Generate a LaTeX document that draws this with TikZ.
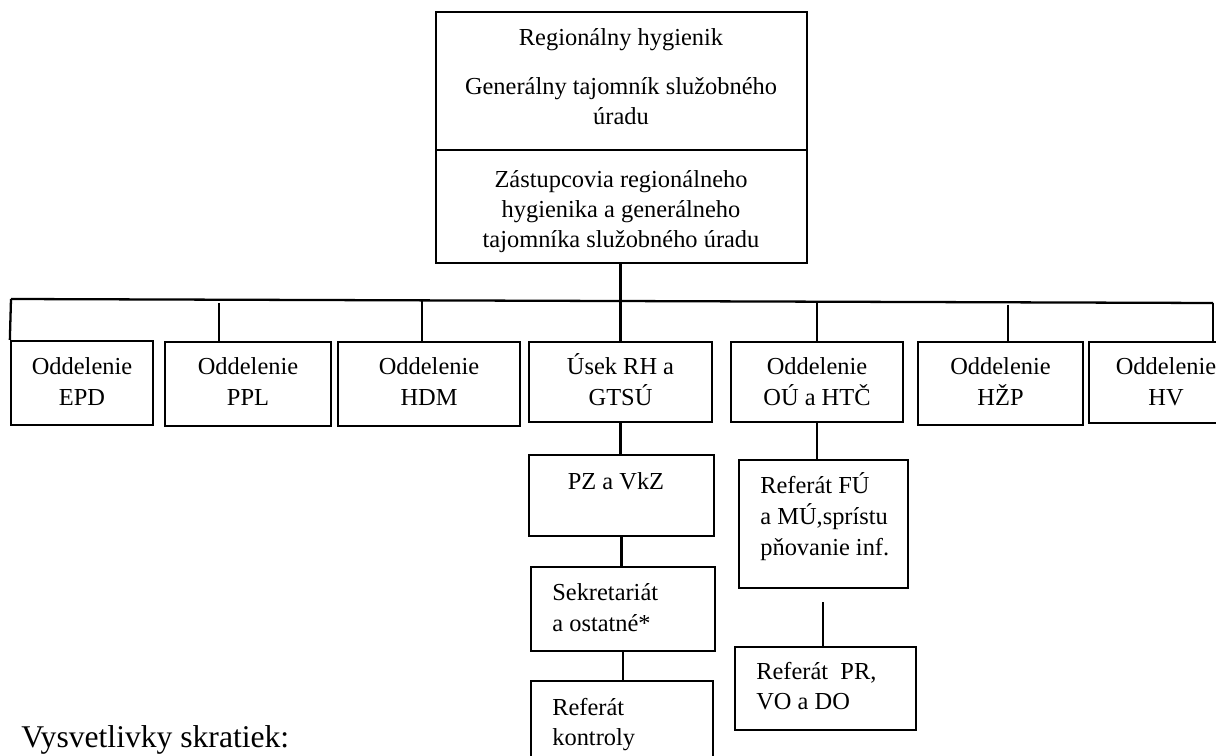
\documentclass[tikz,border=0pt]{standalone}
\usepackage{fontspec}
\setmainfont{Liberation Serif}
\usetikzlibrary{fit}
\begin{document}
\begin{tikzpicture}[x=0.02cm,y=-0.02cm,
  box/.style={draw, line width=1.3pt, inner sep=0pt, rectangle},
  conn/.style={line width=1.3pt},
  tc/.style={inner sep=0pt, anchor=base, font=\fontsize{13.9}{16}\selectfont},
  tl/.style={inner sep=0pt, anchor=base west, font=\fontsize{13.9}{16}\selectfont}]
\useasboundingbox (0,0) rectangle (1216,756);
\clip (0,0) rectangle (1216,756);

% boxes
\node[box, fit={(436,12)(807,150)}] (rh) {};
\node[box, fit={(436,150)(807,263)}] (zast) {};
\node[box, fit={(11,341)(153,425)}] (epd) {};
\node[box, fit={(165,342)(331,426)}] (ppl) {};
\node[box, fit={(338,342)(520,426)}] (hdm) {};
\node[box, fit={(529,342)(712,422)}] (usek) {};
\node[box, fit={(731,342)(903,422)}] (ou) {};
\node[box, fit={(918,342)(1083,425)}] (hzp) {};
\node[box, fit={(1089,342)(1243,423)}] (hv) {};
\node[box, fit={(529,455)(714,536)}] (pz) {};
\node[box, fit={(531,567)(715,651)}] (sek) {};
\node[box, fit={(531,681)(713,790)}] (rk) {};
\node[box, fit={(739,460)(908,588)}] (fu) {};
\node[box, fit={(735,647)(916,730)}] (pr) {};

% connectors
\coordinate (busL) at (11,299);
\coordinate (busR) at (1213,303);
\draw[conn] (busL) -- (busR);
\draw[conn] (busL) -- (epd.north west);
\coordinate (cppl) at (219,303);
\draw[conn] (cppl) -- (cppl |- ppl.north);
\coordinate (chdm) at (422,301);
\draw[conn] (chdm) -- (chdm |- hdm.north);
\draw[conn] (usek.north |- zast.south) -- (usek.north);
\coordinate (cou) at (817,302);
\draw[conn] (cou) -- (cou |- ou.north);
\coordinate (chzp) at (1008,305);
\draw[conn] (chzp) -- (chzp |- hzp.north);
\draw[conn] (busR) -- (busR |- hv.north);
\draw[conn] (usek.south) -- (usek.south |- pz.north);
\draw[conn] (pz.south) -- (pz.south |- sek.north);
\draw[conn] (sek.south) -- (sek.south |- rk.north);
\draw[conn] (ou.south) -- (ou.south |- fu.north);
\coordinate (cgap) at (823,602);
\draw[conn] (cgap) -- (cgap |- pr.north);

% texts
\node[tc] (t1) at (621,46) {Regionálny hygienik};
\node[tc] (t2) at (621,95) {Generálny tajomník služobného};
\node[tc] (t3) at (621,125) {úradu};
\node[tc] (t4) at (621,188) {Zástupcovia regionálneho};
\node[tc] (t5) at (621,218) {hygienika a generálneho};
\node[tc] (t6) at (621,248) {tajomníka služobného úradu};

\node[tc] (e1) at (82,375) {Oddelenie};
\node[tc] (e2) at (82,406) {EPD};
\node[tc] (p1) at (248,375) {Oddelenie};
\node[tc] (p2) at (248,406) {PPL};
\node[tc] (h1) at (429,375) {Oddelenie};
\node[tc] (h2) at (429,406) {HDM};
\node[tc] (u1) at (620.5,375) {Úsek RH a};
\node[tc] (u2) at (620.5,406) {GTSÚ};
\node[tc] (o1) at (817,375) {Oddelenie};
\node[tc] (o2) at (817,406) {OÚ a HTČ};
\node[tc] (z1) at (1000.5,375) {Oddelenie};
\node[tc] (z2) at (1000.5,406) {HŽP};
\node[tc] (v1) at (1166,375) {Oddelenie};
\node[tc] (v2) at (1166,406) {HV};

\node[tc] (pz1) at (616,489) {PZ a VkZ};
\node[tl] (s1) at (552,600) {Sekretariát};
\node[tl] (s2) at (552,631) {a ostatné*};
\node[tl] (k1) at (552,715) {Referát};
\node[tl] (k2) at (552,745) {kontroly};
\node[tl] (f1) at (760,493) {Referát FÚ};
\node[tl] (f2) at (760,524) {a MÚ,sprístu};
\node[tl] (f3) at (760,555) {pňovanie inf.};
\node[tl] (r1) at (756,679) {Referát\ \ PR,};
\node[tl] (r2) at (756,709) {VO a DO};

\node[inner sep=0pt, anchor=base west, font=\fontsize{18}{21}\selectfont] (vys) at (21,747) {Vysvetlivky skratiek:};
\end{tikzpicture}
\end{document}
